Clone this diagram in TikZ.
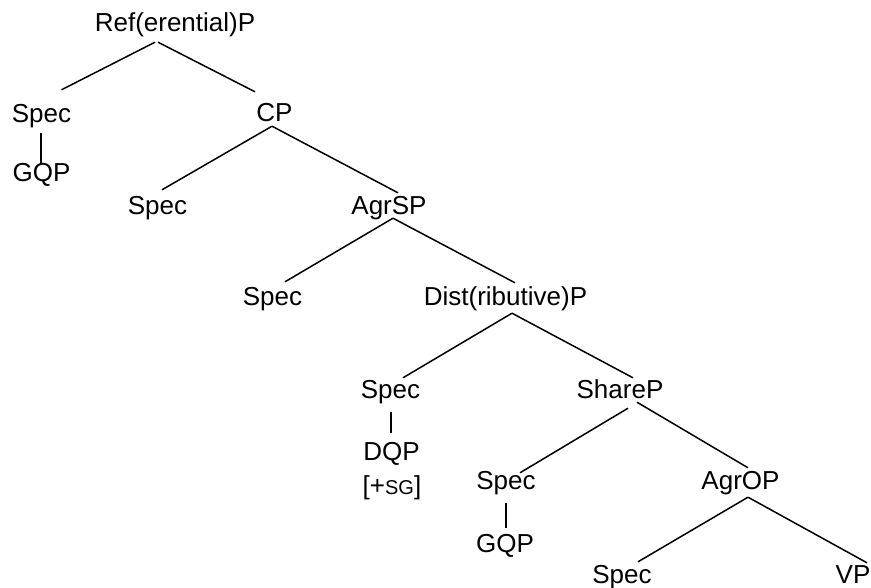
\documentclass[tikz,border=0pt]{standalone}
\usepackage{fontspec}
\setmainfont{Liberation Sans}
\begin{document}
\begin{tikzpicture}[x=1pt,y=-1pt,
    cat/.style={anchor=base,inner sep=0pt,text height=19pt,text depth=6pt,font=\fontsize{26}{30}\selectfont},
    branch/.style={line width=1.5pt}]
  \useasboundingbox (0,0) rectangle (871,588);
  \node[cat] (ref) at (175,32) {Ref(erential)P};
  \node[cat] (specA) at (41.5,123) {Spec};
  \node[cat] (gqpA) at (41.5,182) {GQP};
  \node[cat] (cp) at (274.5,122) {CP};
  \node[cat] (specB) at (157.5,215) {Spec};
  \node[cat] (agrsp) at (389,215) {AgrSP};
  \node[cat] (specC) at (272.5,306) {Spec};
  \node[cat] (dist) at (505.5,306) {Dist(ributive)P};
  \node[cat] (specD) at (390.5,398) {Spec};
  \node[cat] (dqp) at (391.5,460) {DQP};
  \node[cat] (sg) at (392,494) {[+{\fontsize{20}{24}\selectfont SG}]};
  \node[cat] (shareP) at (620,399) {ShareP};
  \node[cat] (specE) at (506,489) {Spec};
  \node[cat] (gqpB) at (505,552) {GQP};
  \node[cat] (agrop) at (740.5,489) {AgrOP};
  \node[cat] (specF) at (622,583) {Spec};
  \node[cat] (vp) at (853,583) {VP};

  \draw[branch] ([xshift=-20pt,yshift=-4pt]ref.south) -- ([xshift=20pt,yshift=14pt]specA.north);
  \draw[branch] ([xshift=-17pt,yshift=-4pt]ref.south) -- ([xshift=-19.5pt,yshift=11pt]cp.north);
  \draw[branch] ([xshift=-0.5pt,yshift=-4pt]specA.south) -- ([xshift=-0.5pt,yshift=-2pt]gqpA.north);
  \draw[branch] ([xshift=-2.5pt,yshift=2pt]cp.south) -- ([xshift=4.5pt,yshift=6pt]specB.north);
  \draw[branch] ([xshift=-2.5pt,yshift=2pt]cp.south) -- ([xshift=9pt,yshift=3pt]agrsp.north);
  \draw[branch] ([xshift=4pt,yshift=3pt]agrsp.south) -- ([xshift=12.5pt,yshift=5pt]specC.north);
  \draw[branch] ([xshift=4pt,yshift=3pt]agrsp.south) -- ([xshift=9.5pt,yshift=4pt]dist.north);
  \draw[branch] ([xshift=6.5pt,yshift=-1pt]dist.south) -- ([xshift=12.5pt,yshift=1pt]specD.north);
  \draw[branch] ([xshift=6.5pt,yshift=-1pt]dist.south) -- ([xshift=13pt,yshift=2pt]shareP.north);
  \draw[branch] ([xshift=0.5pt,yshift=-8pt]specD.south) -- ([xshift=-0.5pt,yshift=8pt]dqp.north);
  \draw[branch] ([xshift=8pt,yshift=-3pt]shareP.south) -- ([xshift=14pt,yshift=-3pt]specE.north);
  \draw[branch] ([xshift=17pt,yshift=3pt]shareP.south) -- ([xshift=7.5pt,yshift=2pt]agrop.north);
  \draw[branch] ([yshift=-8pt]specE.south) -- ([xshift=1pt,yshift=5pt]gqpB.north);
  \draw[branch] ([xshift=7.5pt,yshift=-2pt]agrop.south) -- ([xshift=16pt,yshift=2pt]specF.north);
  \draw[branch] ([xshift=7.5pt,yshift=-2pt]agrop.south) -- ([xshift=14pt,yshift=1pt]vp.north);
\end{tikzpicture}
\end{document}
